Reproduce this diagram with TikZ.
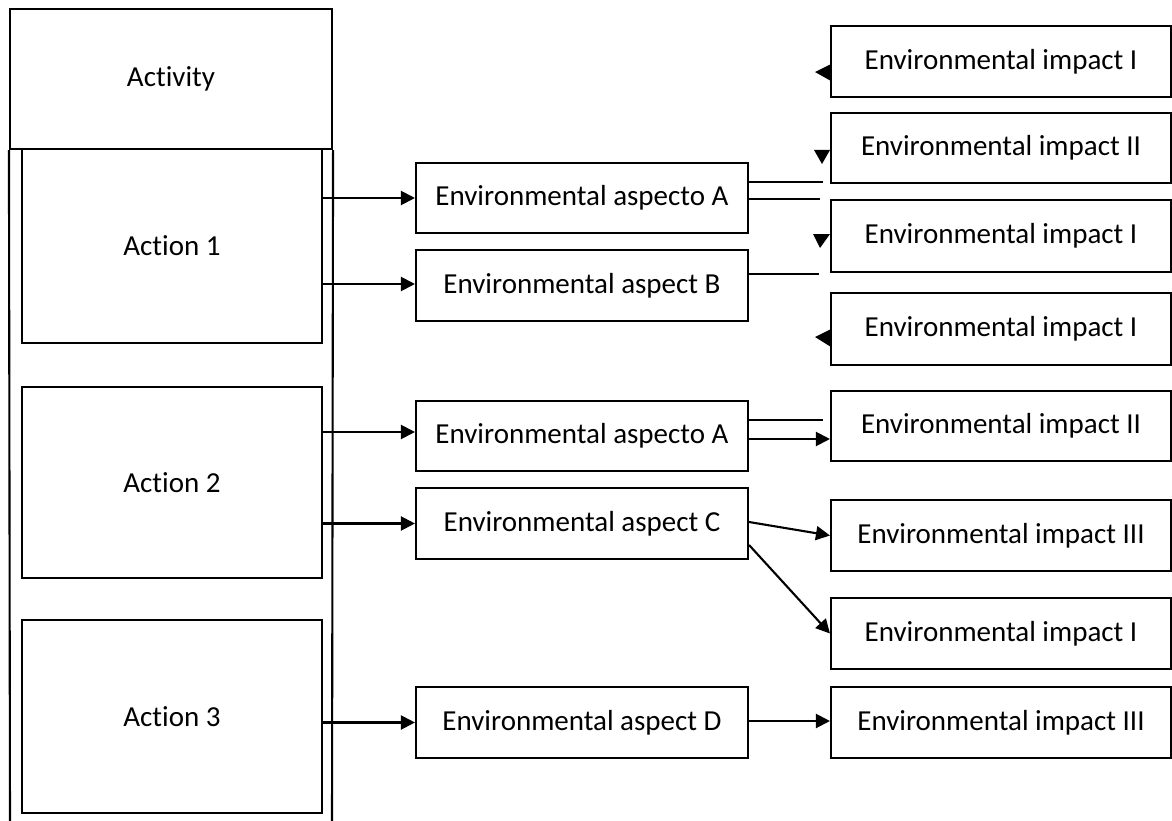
\documentclass[tikz,border=0pt]{standalone}
\usepackage{fontspec}
\setmainfont{Carlito}[RawFeature={-liga;-clig;-calt;-dlig}]
\usetikzlibrary{arrows.meta}
\begin{document}
\begin{tikzpicture}[x=1pt,y=-1pt,
  line width=2.1pt,
  box/.style={draw=black,rectangle,inner sep=0pt,font=\fontsize{29}{35}\selectfont},
  aspectbox/.style={box,minimum width=332pt,minimum height=70pt},
  impactbox/.style={box,minimum width=340pt,minimum height=71pt},
  actionbox/.style={box,minimum width=300pt},
  arr/.style={-{Triangle[length=14pt,width=14pt]}},
  tip/.style={fill=black,draw=none}]
\useasboundingbox (0,0) rectangle (1172,821);
% Activity column
\node[box,minimum width=322pt,minimum height=140pt] (act) at (171,79) {Activity};
\coordinate (bl) at (10,823);
\coordinate (br) at (332,823);
\draw (act.south west) -- (bl);
\draw (act.south east) -- (br);
\node[actionbox,minimum height=194pt] (act1) at (172,246) {Action 1};
\node[actionbox,minimum height=191pt] (act2) at (172,482.5) {Action 2};
\node[actionbox,minimum height=193pt] (act3) at (172,716.5) {Action 3};
% aspects
\node[aspectbox] (aA1) at (582,198) {Environmental aspecto A};
\node[aspectbox,minimum height=71pt] (aB) at (582,285.5) {Environmental aspect B};
\node[aspectbox] (aA2) at (582,436) {Environmental aspecto A};
\node[aspectbox,minimum height=71pt] (aC) at (582,523.5) {Environmental aspect C};
\node[aspectbox,minimum height=71pt] (aD) at (582,722.5) {Environmental aspect D};
% impacts
\node[impactbox] (i1) at (1001,61.5) {Environmental impact I};
\node[impactbox,minimum height=70pt] (i2) at (1001,148) {Environmental impact II};
\node[impactbox,minimum height=72pt] (i3) at (1001,236) {Environmental impact I};
\node[impactbox,minimum height=72pt] (i4) at (1001,329) {Environmental impact I};
\node[impactbox,minimum height=70pt] (i5) at (1001,426) {Environmental impact II};
\node[impactbox] (i6) at (1001,535.5) {Environmental impact III};
\node[impactbox] (i7) at (1001,633.5) {Environmental impact I};
\node[impactbox] (i8) at (1001,722.5) {Environmental impact III};
% action -> aspect arrows
\draw[arr] (act1.east |- aA1.west) -- (aA1.west);
\draw[arr] ([yshift=1.5pt]act1.east |- aB.west) -- ([yshift=1.5pt]aB.west);
\draw[arr] ([yshift=4pt]act2.east |- aA2.west) -- ([yshift=4pt]aA2.west);
\draw[arr] (act2.east |- aC.west) -- (aC.west);
\draw[arr] (act3.east |- aD.west) -- (aD.west);
% broken connectors from aspects
\coordinate (e1) at (823,182);
\coordinate (e2) at (820,199);
\coordinate (e3) at (819,274);
\coordinate (e4) at (823,420);
\draw (aA1.east |- e1) -- (e1);
\draw (aA1.east |- e2) -- (e2);
\draw (aB.east |- e3) -- (e3);
\draw (aA2.east |- e4) -- (e4);
\draw[arr] ([yshift=-3pt]aA2.east) -- ([yshift=-3pt]aA2.east -| i5.west);
\draw[arr] ([yshift=1.5pt]aC.east) -- (i6.west);
\draw[arr] ([yshift=-21.5pt]aC.east) -- (i7.west);
\draw[arr] ([yshift=1.5pt]aD.east) -- ([yshift=1.5pt]i8.west);
% detached arrowheads
\fill[tip] (815,72) -- (831,64) -- (831,81) -- cycle;
\fill[tip] (814,150) -- (830,150) -- (822,164) -- cycle;
\fill[tip] (813,234) -- (830,234) -- (820,248) -- cycle;
\fill[tip] (815,337) -- (831,329) -- (831,347) -- cycle;
\end{tikzpicture}
\end{document}
